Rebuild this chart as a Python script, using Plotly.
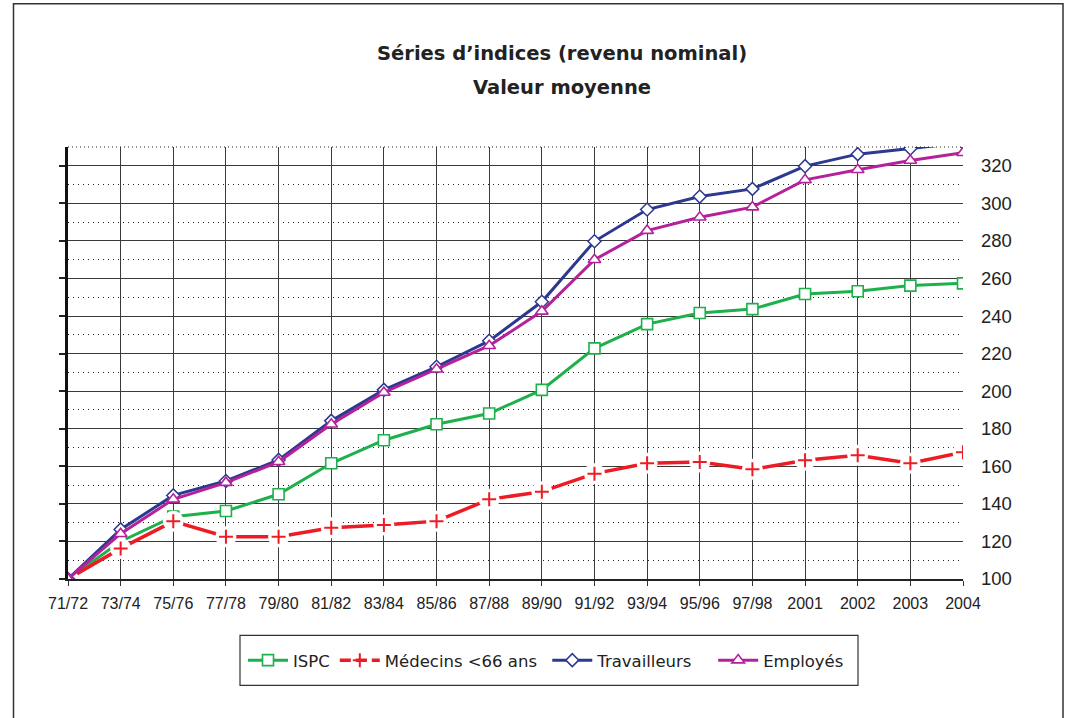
import plotly.graph_objects as go

categories = ["71/72", "73/74", "75/76", "77/78", "79/80", "81/82", "83/84", "85/86", "87/88",
              "89/90", "91/92", "93/94", "95/96", "97/98", "2001", "2002", "2003", "2004"]

series_names = ["ISPC", "Médecins <66 ans", "Travailleurs", "Employés"]

ispc = [100, 120, 133.2, 136.2, 145.1, 161.6, 173.9, 182.4, 188.1, 200.7, 222.8,
        235.7, 241.6, 243.7, 251.7, 253.2, 256.2, 257.4]
medecins = [100, 116.3, 130.7, 122.5, 122.5, 127.3, 128.7, 130.8, 142.4, 146.5, 156.1,
            161.6, 162.3, 158.4, 163.2, 165.9, 161.6, 167.5]
travailleurs = [100, 126.4, 144.5, 152.2, 163.4, 184.2, 200.7, 213, 226.8, 247.6, 279.8,
                296.7, 303.6, 307.7, 319.8, 326.2, 329.2, 332.3]
employes = [100, 124.1, 142.4, 151.3, 162.4, 182.4, 199.3, 211.7, 224.2, 242.5, 270,
            285.5, 292.6, 298, 312.5, 317.9, 322.8, 326.9]

title_line1 = "Séries d’indices (revenu nominal)"
title_line2 = "Valeur moyenne"

GREEN = "#1DB04B"
RED = "#ED1C24"
BLUE = "#2B3990"
MAGENTA = "#B5219B"

NB = "\u00a0"
legend_pad = [0, 1, 3, 0]
legend_names = [n + NB * p for n, p in zip(series_names, legend_pad)]

fig = go.Figure()

fig.add_trace(go.Scatter(
    x=categories, y=ispc, name=legend_names[0], mode="lines+markers",
    line=dict(color=GREEN, width=3),
    marker=dict(symbol="square", size=11, color="white", line=dict(color=GREEN, width=1.6)),
))
# legend entry for the red series (dashed look, as in the original legend)
fig.add_trace(go.Scatter(
    x=[None], y=[None], name=legend_names[1], mode="lines+markers",
    line=dict(color=RED, width=3.5, dash="11px,5px"),
    marker=dict(symbol="cross-thin", size=10, color=RED, line=dict(color=RED, width=2)),
))
fig.add_trace(go.Scatter(
    x=categories, y=medecins, name=series_names[1], mode="lines", showlegend=False,
    line=dict(color=RED, width=3.5),
))
# white halo around the crosses (gaps in the red line)
fig.add_trace(go.Scatter(
    x=categories, y=medecins, mode="markers", showlegend=False, hoverinfo="skip",
    marker=dict(symbol="circle", size=21, color="white", line=dict(width=0)),
))
fig.add_trace(go.Scatter(
    x=categories, y=medecins, mode="markers", showlegend=False, name=series_names[1],
    marker=dict(symbol="cross-thin", size=10, color=RED, line=dict(color=RED, width=2)),
))
fig.add_trace(go.Scatter(
    x=categories, y=travailleurs, name=legend_names[2], mode="lines+markers",
    line=dict(color=BLUE, width=3),
    marker=dict(symbol="diamond", size=10, color="white", line=dict(color=BLUE, width=1.5)),
))
fig.add_trace(go.Scatter(
    x=categories, y=employes, name=legend_names[3], mode="lines+markers",
    line=dict(color=MAGENTA, width=3),
    marker=dict(symbol="triangle-up", size=11, color="white", line=dict(color=MAGENTA, width=1.6)),
))
# helper trace for left axis ticks
fig.add_trace(go.Scatter(
    x=[categories[0]], y=[100], yaxis="y2", mode="markers", showlegend=False,
    hoverinfo="skip", marker=dict(opacity=0),
))

W, H = 1069, 718
L, R, T, B = 68, 963, 147, 579.5
pw, ph = R - L, B - T


def px(xp):
    return (xp - L) / pw


def py(yp):
    return (B - yp) / ph


fig.update_layout(
    width=W, height=H,
    margin=dict(l=L, r=W - R, t=T, b=H - B, pad=0),
    paper_bgcolor="white", plot_bgcolor="white",
    font=dict(family="Liberation Sans, Arial, sans-serif", color="#222"),
    showlegend=True,
    legend=dict(
        orientation="h", x=px(243), y=py(661), xanchor="left", yanchor="middle",
        borderwidth=0, bgcolor="rgba(0,0,0,0)",
        font=dict(family="DejaVu Sans, sans-serif", size=16.5, color="#222"),
        itemwidth=40, tracegroupgap=0,
    ),
    xaxis=dict(
        type="category", range=[0, len(categories) - 1],
        showgrid=True, gridcolor="#3a3a3a", gridwidth=1,
        showline=True, linecolor="#222", linewidth=1.5,
        ticks="outside", ticklen=5, tickcolor="#333", tickwidth=1,
        tickfont=dict(size=16, family="Liberation Sans, Arial, sans-serif", color="#222"),
        ticklabelstandoff=4, zeroline=False,
    ),
    yaxis=dict(
        side="right", range=[100, 330], tick0=100, dtick=20,
        showgrid=True, gridcolor="#3a3a3a", gridwidth=1,
        ticks="", showline=False, zeroline=False,
        tickfont=dict(size=18.5, family="Liberation Sans, Arial, sans-serif", color="#222"),
        ticklabelstandoff=17,
        minor=dict(tick0=100, dtick=10, showgrid=True, gridcolor="#222",
                   gridwidth=1, griddash="1px,4px"),
    ),
    yaxis2=dict(
        overlaying="y", side="left", range=[100, 330], tick0=100, dtick=20,
        showgrid=False, showline=True, linecolor="#111", linewidth=2.5,
        ticks="outside", ticklen=6, tickcolor="#222", tickwidth=1.5,
        showticklabels=False, zeroline=False,
    ),
    annotations=[
        dict(text=f"<b>{title_line1}</b>", x=px(561.5), y=py(53), xref="paper", yref="paper",
             xanchor="center", yanchor="middle", showarrow=False,
             font=dict(family="DejaVu Sans, sans-serif", size=19.5, color="#222")),
        dict(text=f"<b>{title_line2}</b>", x=px(561.5), y=py(87), xref="paper", yref="paper",
             xanchor="center", yanchor="middle", showarrow=False,
             font=dict(family="DejaVu Sans, sans-serif", size=19.5, color="#222")),
    ],
    shapes=[
        dict(type="rect", xref="paper", yref="paper",
             x0=px(13.5), x1=px(1063), y0=py(3.5), y1=py(760),
             line=dict(color="#333", width=1.5), layer="below"),
        dict(type="rect", xref="paper", yref="paper",
             x0=px(240), x1=px(858), y0=py(636), y1=py(686),
             line=dict(color="#333", width=1.2), layer="below"),
        dict(type="line", xref="paper", yref="paper",
             x0=0, x1=1, y0=1, y1=1,
             line=dict(color="#222", width=1, dash="1px,3px"), layer="above"),
    ],
)

fig.write_html(
    "out.html",
    config={"displayModeBar": False},
    post_script="document.body.style.margin='0px';document.body.style.padding='0px';",
)
